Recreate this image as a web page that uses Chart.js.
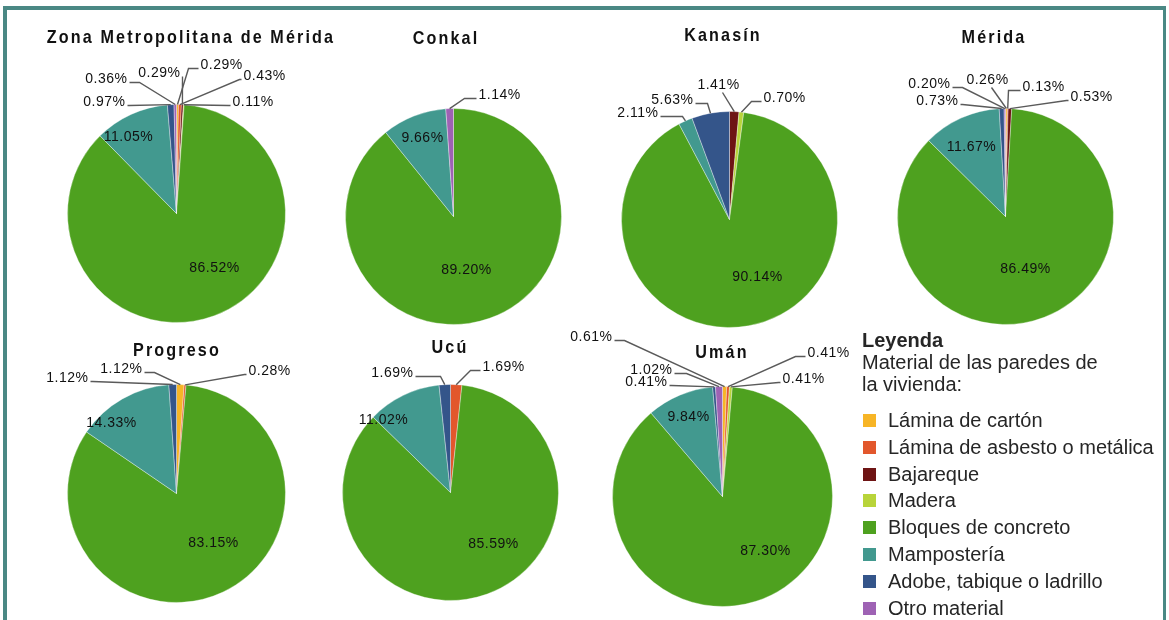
<!DOCTYPE html>
<html><head><meta charset="utf-8">
<script src="https://cdn.jsdelivr.net/npm/chart.js@4/dist/chart.umd.min.js"></script>
<style>
html,body{margin:0;padding:0;background:#fff;width:1169px;height:620px;overflow:hidden;font-family:'Liberation Sans',Arial,sans-serif;}
#frame{position:absolute;left:3px;top:6px;width:1156px;height:700px;border-left:4px solid #4a8884;border-top:4px solid #4a8884;border-right:3px solid #4a8884;}
.pie{position:absolute;width:320px;height:340px;}
.title{position:absolute;transform:translate(-50%,-50%) scaleX(0.85);font-weight:bold;font-size:19px;font-family:'Liberation Sans',Arial,sans-serif;letter-spacing:2.5px;white-space:nowrap;color:#111;}
#legend{position:absolute;left:862px;top:329px;font-size:20px;font-family:'Liberation Sans',Arial,sans-serif;color:#262626;}
#legend .h{font-weight:bold;line-height:22px;}
#legend .s{line-height:22px;}
#legend ul{list-style:none;margin:12px 0 0 0;padding:0;}
#legend li{height:26.8px;line-height:26.8px;position:relative;padding-left:26px;white-space:nowrap;}
#legend li span{position:absolute;left:1px;top:7px;width:13px;height:13px;}
</style></head>
<body>
<div id="frame"></div>
<div id="pies"></div>
<div id="legend">
  <div class="h">Leyenda</div>
  <div class="s">Material de las paredes de</div>
  <div class="s">la vivienda:</div>
  <ul id="legItems"></ul>
</div>
<script>
const categories = ['Lámina de cartón','Lámina de asbesto o metálica','Bajareque','Madera','Bloques de concreto','Mampostería','Adobe, tabique o ladrillo','Otro material'];
const zoneNames = ['Zona Metropolitana de Mérida','Conkal','Kanasín','Mérida','Progreso','Ucú','Umán'];
const zmmValues      = [0.29, 0.43, 0.29, 0.11, 86.52, 11.05, 0.97, 0.36];
const conkalValues   = [0, 0, 0, 0, 89.20, 9.66, 0, 1.14];
const kanasinValues  = [0, 0, 1.41, 0.70, 90.14, 2.11, 5.63, 0];
const meridaValues   = [0.26, 0.13, 0.53, 0, 86.49, 11.67, 0.73, 0.20];
const progresoValues = [1.12, 0.28, 0, 0, 83.15, 14.33, 1.12, 0];
const ucuValues      = [0, 1.69, 0, 0, 85.59, 11.02, 1.69, 0];
const umanValues     = [0.61, 0.41, 0, 0.41, 87.30, 9.84, 0.41, 1.02];
const seriesByZone = [zmmValues, conkalValues, kanasinValues, meridaValues, progresoValues, ucuValues, umanValues];

const colors = ['#F7B526','#E2572C','#6E1414','#B8D43A','#4EA11F','#42998F','#34558A','#9E62B4'];

// layout: pie centre/radius, title centre, label placement [dx, dy, align, elbow] relative to pie centre
const pieLayout = [
  {cx:176, cy:213, r:109, tx:191, ty:37, labels:{0:[24,-148,'left',10],1:[67,-137,'left',2],2:[4,-140,'right',0],3:[56,-111,'left',2],4:[38,55,'in'],5:[-48,-76,'in'],6:[-51,-111,'right',2],7:[-49,-134,'right',10]}},
  {cx:453, cy:216, r:108, tx:446, ty:38, labels:{4:[13,54,'in'],5:[-31,-78,'in'],7:[25,-121,'left',12]}},
  {cx:729, cy:219, r:108, tx:723, ty:35, labels:{2:[-11,-134,'center'],3:[34,-121,'left',10],4:[28,58,'in'],5:[-71,-106,'right',22],6:[-36,-119,'right',12]}},
  {cx:1005, cy:216, r:108, tx:994, ty:37, labels:{0:[-18,-136,'center'],1:[17,-129,'left',12],2:[65,-119,'left',2],4:[20,53,'in'],5:[-34,-69,'in'],6:[-47,-115,'right',2],7:[-55,-132,'right',10]}},
  {cx:176, cy:493, r:109, tx:177, ty:350, labels:{0:[-34,-124,'right',10],1:[72,-122,'left',2],4:[37,50,'in'],5:[-65,-70,'in'],6:[-88,-115,'right',2]}},
  {cx:450, cy:492, r:108, tx:450, ty:347, labels:{1:[32,-125,'left',10],4:[43,52,'in'],5:[-67,-72,'in'],6:[-37,-119,'right',25]}},
  {cx:722, cy:496, r:110, tx:722, ty:352, labels:{0:[-110,-159,'right',10],1:[85,-143,'left',10],3:[60,-117,'left',2],4:[43,55,'in'],5:[-34,-79,'in'],6:[-55,-114,'right',2],7:[-50,-126,'right',12]}}
];

const leaderPlugin = {
  id:'leaders',
  afterDatasetsDraw(chart, args, opts){
    const ctx = chart.ctx;
    const meta = chart.getDatasetMeta(0);
    const lay = opts.layout;
    const vals = chart.data.datasets[0].data;
    ctx.save();
    ctx.font = '14px "Liberation Sans", Arial, sans-serif';
    try { ctx.letterSpacing = '0.5px'; } catch(e) {}
    ctx.textBaseline = 'middle';
    meta.data.forEach((arc, i) => {
      const L = lay[i];
      if (!L || !(vals[i] > 0)) return;
      const p = arc.getProps(['x','y','startAngle','endAngle','outerRadius'], true);
      const text = vals[i].toFixed(2) + '%';
      const [dx, dy, align, elbow] = L;
      const lx = p.x + dx, ly = p.y + dy;
      ctx.fillStyle = '#111';
      if (align === 'in') { ctx.textAlign = 'center'; ctx.fillText(text, lx, ly); return; }
      const mid = (p.startAngle + p.endAngle) / 2;
      const px = p.x + Math.cos(mid) * p.outerRadius, py = p.y + Math.sin(mid) * p.outerRadius;
      ctx.beginPath();
      ctx.strokeStyle = '#5a5a5a'; ctx.lineWidth = 1.4;
      if (align === 'left') { const sx = lx - 2, sy = ly + 3; ctx.moveTo(sx, sy); ctx.lineTo(sx - elbow, sy); ctx.lineTo(px, py); }
      else if (align === 'right') { const sx = lx + 2, sy = ly + 3; ctx.moveTo(sx, sy); ctx.lineTo(sx + elbow, sy); ctx.lineTo(px, py); }
      else { ctx.moveTo(lx + 4, ly + 7); ctx.lineTo(px, py); }
      ctx.stroke();
      ctx.textAlign = align === 'center' ? 'center' : align;
      ctx.fillText(text, lx, ly);
    });
    ctx.restore();
  }
};

const W = 320, H = 340;
const piesDiv = document.getElementById('pies');
seriesByZone.forEach((vals, k) => {
  const L = pieLayout[k];
  const div = document.createElement('div');
  div.className = 'pie';
  div.style.left = (L.cx - 160.5) + 'px';
  div.style.top = (L.cy - 170.5) + 'px';
  const cv = document.createElement('canvas');
  cv.width = W; cv.height = H;
  div.appendChild(cv);
  piesDiv.appendChild(div);
  const t = document.createElement('div');
  t.className = 'title';
  t.textContent = zoneNames[k];
  t.style.left = L.tx + 'px'; t.style.top = L.ty + 'px';
  document.body.appendChild(t);
  const padL = 160 - L.r, padT = 170 - L.r;
  new Chart(cv, {
    type: 'pie',
    data: { labels: categories, datasets: [{ data: vals, backgroundColor: colors,
      borderColor: 'rgba(255,255,255,0.35)', borderWidth: c => (c.raw > 0 ? 1 : 0), hoverOffset: 0, offset: 0 }] },
    options: {
      responsive: false, animation: false, devicePixelRatio: 1,
      layout: { padding: { left: padL, right: W - padL - (2 * L.r + 1), top: padT, bottom: H - padT - (2 * L.r + 1) } },
      plugins: { legend: { display: false }, tooltip: { enabled: false }, title: { display: false },
        leaders: { layout: L.labels } },
      events: []
    },
    plugins: [leaderPlugin]
  });
});
const ul = document.getElementById('legItems');
categories.forEach((c, i) => {
  const li = document.createElement('li');
  const sq = document.createElement('span');
  sq.style.background = colors[i];
  li.appendChild(sq);
  li.appendChild(document.createTextNode(c));
  ul.appendChild(li);
});
</script>
</body></html>
